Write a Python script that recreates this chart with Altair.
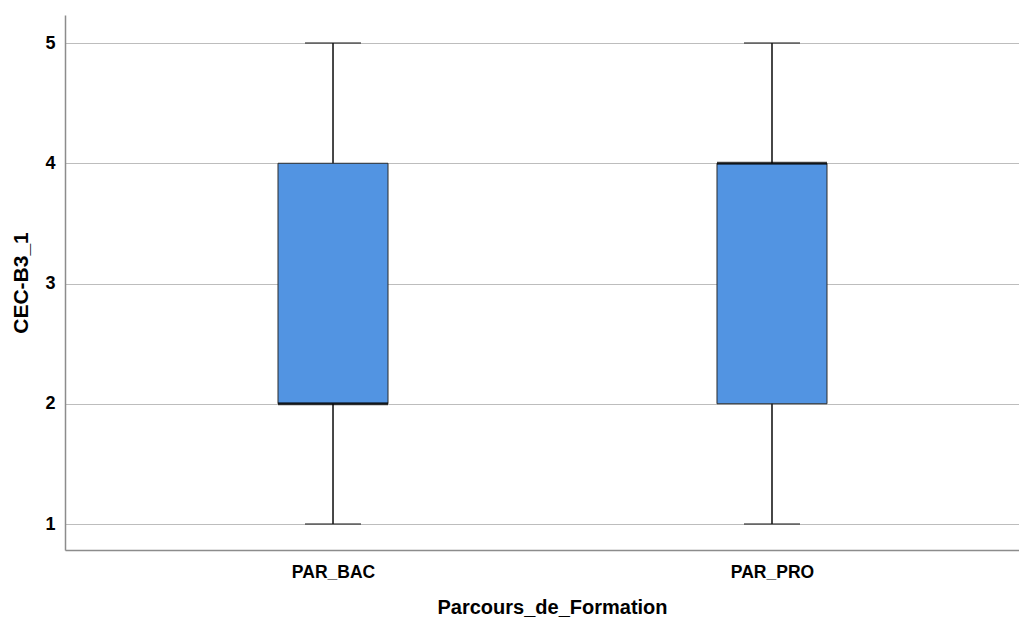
import altair as alt
import pandas as pd

groups = ["PAR_BAC", "PAR_PRO"]
mins = [1, 1]
q1s = [2, 2]
medians = [2, 4]
q3s = [4, 4]
maxs = [5, 5]
y_ticks = [1, 2, 3, 4, 5]

df = pd.DataFrame({"group": groups, "min": mins, "q1": q1s,
                   "median": medians, "q3": q3s, "max": maxs})

FONT = "Liberation Sans"
YTITLE = "CEC-B3_1"
XTITLE = "Parcours_de_Formation"

xscale = alt.Scale(type="point", domain=groups, padding=0.5866, align=0.5204)
yscale = alt.Scale(domain=[0.784, 5.233], nice=False, zero=False)

xaxis = alt.Axis(labelAngle=0, ticks=False, grid=False, domainColor="#8c8c8c",
                 domainWidth=1.5, labelFontSize=17.5, labelFontWeight="bold",
                 labelPadding=13, titleFontSize=20, titleFontWeight="bold",
                 titlePadding=17, titleX=487, titleAlign="center",
                 labelFont=FONT, titleFont=FONT,
                 labelColor="#000000", titleColor="#000000")
yaxis = alt.Axis(values=y_ticks, ticks=False, grid=True, gridColor="#bdbdbd",
                 gridWidth=1.2, domainColor="#8c8c8c", domainWidth=1.5,
                 labelFontSize=18, labelFontWeight="bold", labelPadding=10,
                 titleFontSize=21, titleFontWeight="bold", titlePadding=13,
                 labelFont=FONT, titleFont=FONT, labelColor="#000000",
                 titleColor="#000000", format="d")

def X():
    return alt.X("group:N", scale=xscale, axis=xaxis, title=XTITLE)

def Y(field):
    return alt.Y(f"{field}:Q", scale=yscale, axis=yaxis, title=YTITLE)

base = alt.Chart(df)

whisker = base.mark_rule(color="#1a1a1a", strokeWidth=1.6).encode(
    x=X(), y=Y("min"), y2="max:Q")
box = base.mark_bar(size=110, color="#5294e2", stroke="#2b2b2b",
                    strokeWidth=1).encode(x=X(), y=Y("q1"), y2="q3:Q")
median = base.mark_tick(size=110, thickness=3, color="#000000").encode(
    x=X(), y=Y("median"))
cap_low = base.mark_tick(size=56, thickness=1.6, color="#1a1a1a").encode(
    x=X(), y=Y("min"))
cap_high = base.mark_tick(size=56, thickness=1.6, color="#1a1a1a").encode(
    x=X(), y=Y("max"))

chart = alt.layer(whisker, box, median, cap_low, cap_high).properties(
    width=954, height=535,
    autosize=alt.AutoSizeParams(type="none"),
    padding={"left": 57, "top": 7, "right": 0, "bottom": 68},
    background="white",
).configure_view(stroke=None)

chart.save("out.html", embed_options={"renderer": "svg", "actions": False})
